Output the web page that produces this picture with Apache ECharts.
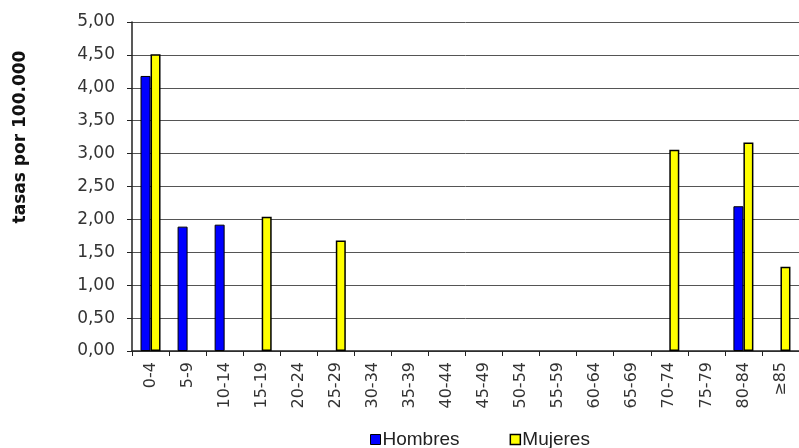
<!DOCTYPE html>
<html>
<head>
<meta charset="utf-8">
<script src="https://cdn.jsdelivr.net/npm/echarts@6/dist/echarts.min.js"></script>
<style>html,body{margin:0;padding:0;background:#fff;}#c{width:799px;height:448px;}</style>
</head>
<body>
<div id="c"></div>
<script>
const categories = ['0-4','5-9','10-14','15-19','20-24','25-29','30-34','35-39','40-44','45-49','50-54','55-59','60-64','65-69','70-74','75-79','80-84','≥85'];
const hombres = [4.18,1.89,1.92,null,null,null,null,null,null,null,null,null,null,null,null,null,2.20,null];
const mujeres = [4.51,null,null,2.04,null,1.68,null,null,null,null,null,null,null,null,3.06,null,3.17,1.28];
const yTicks = ['0,00','0,50','1,00','1,50','2,00','2,50','3,00','3,50','4,00','4,50','5,00'];
const yTitle = 'tasas por 100.000';

const chart = echarts.init(document.getElementById('c'), null, {renderer:'canvas'});
const font = 'DejaVu Sans, sans-serif';
chart.setOption({
  animation:false,
  backgroundColor:'#fff',
  grid:{left:132, right:-8, top:22, bottom:97},
  graphic:[{
    type:'text', x:21, y:137, rotation:Math.PI/2,
    style:{text:yTitle, fontFamily:font, fontSize:17, fontWeight:'bold', fill:'#111',
      textAlign:'center', textVerticalAlign:'middle'}
  }],
  legend:{
    left:365, top:425, padding:5, itemWidth:10, itemHeight:10, itemGap:50,
    icon:'rect',
    textStyle:{fontFamily:'Liberation Sans, Arial, sans-serif', fontSize:19, color:'#222', padding:[0,0,0,-3]},
    data:[{name:'Hombres', itemStyle:{borderColor:'#000',borderWidth:1}},{name:'Mujeres', itemStyle:{borderColor:'#000',borderWidth:1.5}}]
  },
  xAxis:{
    type:'category', data:categories, boundaryGap:true,
    axisLine:{lineStyle:{color:'#222', width:1.5}},
    axisTick:{show:true, length:5, lineStyle:{color:'#222'}},
    axisLabel:{rotate:90, fontFamily:font, fontSize:16, color:'#333', margin:11, interval:0}
  },
  yAxis:{
    type:'value', min:0, max:5, interval:0.5,
    axisLine:{show:true, lineStyle:{color:'#222', width:1.5}},
    axisTick:{show:true, length:5, lineStyle:{color:'#222'}},
    axisLabel:{fontFamily:font, fontSize:17, color:'#333', margin:17,
      formatter:function(v){return yTicks[Math.round(v/0.5)];}},
    splitLine:{lineStyle:{color:'#555', width:1}}
  },
  series:[
    {name:'Hombres', type:'bar', data:hombres, barWidth:10, barGap:'0%',
     itemStyle:{color:'#0000ff', borderColor:'#000', borderWidth:1}},
    {name:'Mujeres', type:'bar', data:mujeres, barWidth:10,
     itemStyle:{color:'#ffff00', borderColor:'#000', borderWidth:1.5}}
  ]
});
</script>
</body>
</html>
